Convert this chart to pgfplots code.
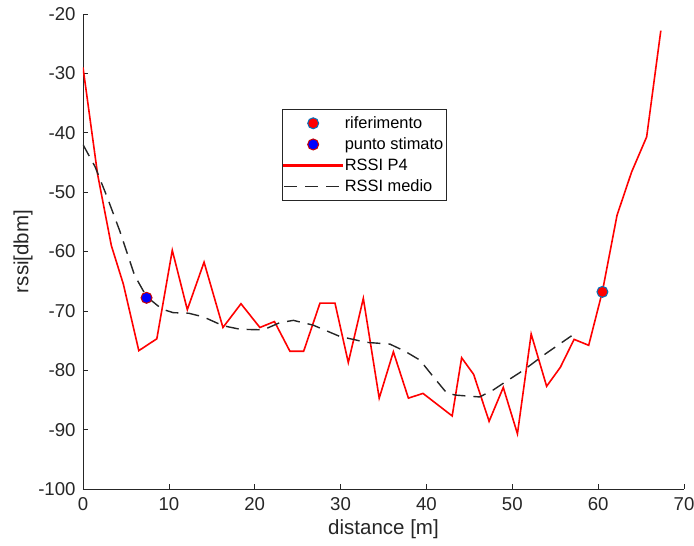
\documentclass[border=0pt]{standalone}
\usepackage{pgfplots}
\pgfplotsset{compat=1.18}
\usepackage{fontspec}
\setmainfont{Liberation Sans}
\definecolor{axgray}{rgb}{0.15,0.15,0.15}
\definecolor{mblue}{rgb}{0,0.447,0.741}
\pgfplotsset{
  marklegend/.style={legend image code/.code={\draw[##1] plot coordinates {(29bp,0bp)}; \path (0bp,0bp) (58bp,0bp);}},
  linelegend/.style={legend image code/.code={\draw[##1] (0bp,0bp) -- (58bp,0bp);}},
  redlegend/.style={legend image code/.code={\fill[red] (0bp,-0.8bp) rectangle (58bp,0.8bp);}},
}
\begin{document}
\begin{tikzpicture}
\begin{axis}[
  scale only axis,
  width=601bp, height=475bp,
  xmin=0, xmax=70, ymin=-100, ymax=-20,
  xtick={0,10,...,70}, ytick={-100,-90,...,-20},
  axis x line*=bottom, axis y line*=left,
  axis line style={axgray, line width=0.6bp},
  tick style={axgray, line width=0.6bp},
  tick align=inside,
  major tick length=5bp,
  /pgf/number format/assume math mode=true,
  ticklabel style={font=\fontsize{18.6bp}{22bp}\selectfont, text=axgray},
  xticklabel style={yshift=-5bp},
  yticklabel style={xshift=-4bp},
  xlabel={distance [m]}, ylabel={rssi[dbm]},
  label style={font=\fontsize{20.5bp}{24bp}\selectfont, text=axgray},
  x label style={at={(axis description cs:0.5,-0.0842)}, anchor=center},
  y label style={at={(axis description cs:-0.0998,0.5)}, anchor=center},
  legend cell align=left,
  legend style={at={(rel axis cs:0.3306,0.8)}, anchor=north west,
    draw=axgray,
    font=\fontsize{16.4bp}{19bp}\selectfont,
    inner xsep=1.5bp, inner ysep=5.6bp, row sep=4.2bp,
    nodes={inner sep=1.8bp, text depth=0.15em}},
]
\addplot[only marks, mark=*, mark size=5.5bp, mark options={fill=red, draw=mblue, line width=1bp}, marklegend]
  coordinates {(60.5,-66.8)};
\addlegendentry{riferimento}
\addplot[only marks, mark=*, mark size=5.5bp, mark options={fill=blue, draw=red!80!black, line width=1bp}, marklegend]
  coordinates {(7.4,-67.8)};
\addlegendentry{punto stimato}
\addplot[draw=red, line width=1.6bp, mark=none, redlegend] coordinates {
(0,-29) (1.7,-47) (3.3,-59) (4.7,-65.5) (6.5,-76.7) (8.6,-74.7) (10.4,-59.8)
(12.15,-69.8) (14.1,-61.8) (16.3,-72.8) (18.4,-68.8) (20.6,-72.8) (22.3,-71.8)
(24.1,-76.8) (25.7,-76.8) (27.6,-68.7) (29.35,-68.7) (30.9,-78.7) (32.65,-67.9)
(34.5,-84.7) (36.15,-76.9) (37.9,-84.7) (39.6,-83.9) (43.0,-87.7) (44.1,-77.9)
(45.5,-80.7) (47.3,-88.6) (48.95,-82.9) (50.6,-90.7) (52.2,-73.9) (54.0,-82.7)
(55.6,-79.5) (57.2,-74.8) (58.9,-75.8) (60.5,-66.7) (62.2,-53.9) (63.9,-46.6)
(65.65,-40.7) (67.3,-22.8)};
\addlegendentry{RSSI P4}
\addplot[draw=axgray, line width=1.4bp, dash pattern=on 13bp off 8bp, mark=none, linelegend] coordinates {
(0,-42) (1.4,-45.7) (2.8,-50.8) (4.3,-56.6) (6.0,-64) (7.4,-67.6) (9.2,-69.7)
(10.5,-70.3) (12.3,-70.4) (14,-71) (16.3,-72.5) (18.3,-73.1) (21,-73.2)
(22.9,-72) (24.5,-71.6) (26.8,-72.4) (29.9,-74.3) (33,-75.3) (35.75,-75.6)
(37.5,-76.8) (39.25,-78.3) (40.8,-81.1) (42.4,-83.9) (43.5,-84.2) (46.2,-84.5)
(47.8,-83.3) (48.95,-82.2) (51.3,-80) (54,-77.1) (56.9,-74.2)};
\addlegendentry{RSSI medio}
\end{axis}
\pgfresetboundingbox
\useasboundingbox ([xshift=-83bp,yshift=-57bp]current axis.south west) rectangle ([xshift=10bp,yshift=14bp]current axis.north east);
\end{tikzpicture}
\end{document}
